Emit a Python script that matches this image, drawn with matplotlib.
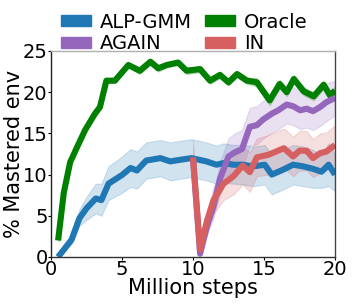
import matplotlib
matplotlib.use("Agg")
import matplotlib.pyplot as plt
from matplotlib.patches import Patch

# ALP-GMM
alp_x = [0.5, 1.45, 2.0, 2.5, 3.15, 3.55, 4.05, 5.0, 5.6, 6.05, 6.7, 7.7, 8.4, 9.1, 9.9,
         10.95, 11.65, 12.15, 12.85, 13.5, 14.25, 15.05, 15.55, 16.35, 17.05, 17.75,
         18.45, 19.05, 19.55, 20.0]
alp_y = [0.0, 2.1, 4.7, 5.9, 7.1, 6.9, 8.9, 9.95, 10.8, 10.5, 11.7, 12.0, 11.6, 11.8, 12.0,
         11.6, 11.2, 11.4, 11.2, 11.2, 11.0, 11.2, 10.0, 10.6, 11.2, 11.0, 10.7, 10.35, 11.2, 10.0]
alp_lo = [0.0, 1.6, 3.8, 4.5, 5.3, 5.0, 6.9, 7.8, 8.5, 8.3, 9.5, 9.8, 9.3, 9.5, 9.7,
          9.3, 8.9, 9.0, 8.9, 8.8, 8.6, 8.8, 7.6, 8.2, 8.8, 8.6, 8.4, 8.4, 8.6, 8.0]
alp_hi = [0.0, 2.7, 5.8, 7.3, 8.9, 8.9, 11.0, 12.2, 13.1, 12.8, 13.9, 14.2, 13.9, 14.1, 14.3,
          13.9, 13.5, 13.8, 13.6, 13.6, 13.4, 13.6, 12.4, 13.0, 13.6, 13.4, 13.0, 12.3, 13.8, 12.4]

# Oracle
ora_x = [0.5, 0.9, 1.35, 1.8, 2.4, 3.1, 3.45, 3.9, 4.5, 5.45, 6.25, 7.0, 7.55, 8.15, 8.95,
         9.55, 10.5, 11.2, 11.9, 12.5, 13.1, 13.8, 14.5, 15.4, 16.1, 16.6, 17.1, 17.8, 18.5,
         19.2, 19.65, 20.0]
ora_y = [2.0, 7.8, 11.5, 13.2, 15.4, 17.4, 18.2, 21.4, 21.4, 23.3, 22.6, 23.7, 22.9, 23.3, 23.6,
         22.6, 22.8, 21.4, 22.1, 21.2, 22.2, 21.4, 21.2, 19.0, 21.0, 20.0, 21.6, 20.1, 19.5,
         20.9, 19.6, 20.2]
ora_lo = [1.9, 7.5, 11.2, 12.9, 15.1, 17.1, 17.9, 21.1, 21.1, 23.0, 22.2, 23.3, 22.5, 23.0, 23.3,
          22.2, 22.4, 21.0, 21.7, 20.8, 21.8, 21.0, 20.7, 18.4, 20.5, 19.5, 21.1, 19.6, 19.0,
          20.4, 19.1, 19.7]
ora_hi = [2.1, 8.1, 11.8, 13.5, 15.7, 17.7, 18.5, 21.7, 21.7, 23.6, 23.0, 24.1, 23.3, 23.6, 23.9,
          23.0, 23.2, 21.8, 22.5, 21.6, 22.6, 21.8, 21.7, 19.6, 21.5, 20.5, 22.1, 20.6, 20.0,
          21.4, 20.1, 20.7]

# AGAIN
ag_x = [10.0, 10.5, 10.95, 11.45, 11.9, 12.5, 12.95, 13.45, 14.0, 14.5, 14.95, 15.55, 16.0,
        16.6, 17.05, 17.55, 18.0, 18.45, 18.95, 19.4, 20.0]
ag_y = [12.0, 0.4, 3.5, 6.2, 9.5, 12.2, 12.7, 13.1, 15.8, 16.0, 16.7, 17.4, 17.8, 18.5, 18.3,
        17.8, 18.0, 17.7, 18.2, 18.8, 19.3]
ag_lo = [12.0, 0.3, 2.5, 4.8, 7.5, 10.0, 10.4, 10.8, 13.5, 13.7, 14.4, 15.1, 15.5, 16.2, 16.0,
         15.5, 15.7, 15.4, 15.9, 16.5, 17.2]
ag_hi = [12.0, 0.5, 4.5, 7.8, 11.5, 14.4, 15.0, 15.4, 18.1, 18.3, 19.0, 19.7, 20.1, 20.8, 20.6,
         20.1, 20.3, 20.0, 20.5, 21.1, 21.4]

# IN
in_x = [10.0, 10.5, 11.0, 11.45, 12.15, 12.85, 13.5, 14.0, 14.5, 15.3, 16.4, 17.05, 17.5,
        18.0, 18.45, 18.95, 19.4, 20.0]
in_y = [12.1, 0.9, 4.5, 6.9, 8.9, 9.8, 11.1, 10.3, 12.1, 12.4, 13.2, 12.2, 12.9, 12.9, 12.0,
        12.6, 12.8, 13.6]
in_lo = [12.0, 0.8, 3.3, 5.3, 6.9, 7.6, 8.8, 7.9, 9.8, 10.0, 10.8, 9.8, 10.5, 10.5, 9.7,
         10.2, 10.5, 11.3]
in_hi = [14.2, 1.0, 5.7, 8.5, 10.9, 12.0, 13.4, 12.7, 14.4, 14.8, 15.6, 14.6, 15.3, 15.3, 14.3,
         15.0, 15.1, 16.0]

labels = ["ALP-GMM", "AGAIN", "Oracle", "IN"]
c_blue, c_purple, c_green, c_red = "#1f77b4", "#9467bd", "#008000", "#d65f5f"

fig = plt.figure(figsize=(3.54, 3.04), dpi=100)
ax = fig.add_axes([51/354, 47/304, 284/354, 206/304])

lw = 4.4
series = [
    (alp_x, alp_y, alp_lo, alp_hi, c_blue),
    (ora_x, ora_y, ora_lo, ora_hi, c_green),
    (ag_x, ag_y, ag_lo, ag_hi, c_purple),
    (in_x, in_y, in_lo, in_hi, c_red),
]
for x, y, lo, hi, c in series:
    ax.fill_between(x, lo, hi, color=c, alpha=0.2, linewidth=0.8)
for x, y, lo, hi, c in series:
    ax.plot(x, y, color=c, lw=lw, solid_capstyle="butt")

ax.set_xlim(0, 20)
ax.set_ylim(0, 25)
ax.set_xticks([0, 5, 10, 15, 20])
ax.set_yticks([0, 5, 10, 15, 20, 25])
ax.tick_params(labelsize=14, length=2, pad=0.5)
ax.set_xlabel("Million steps", fontsize=15, labelpad=-1)
ax.set_ylabel("% Mastered env", fontsize=15, labelpad=-1)

ax.spines["top"].set_color("#b0b0b0")
ax.spines["right"].set_color("#444444")
ax.spines["left"].set_color("#222222")
ax.spines["bottom"].set_color("#333333")
for s in ax.spines.values():
    s.set_linewidth(1.0)

handles = [Patch(color=c_blue), Patch(color=c_purple), Patch(color=c_green), Patch(color=c_red)]
ax.legend(handles, labels, ncol=2, loc="lower center", bbox_to_anchor=(0.468, 0.99),
          frameon=False, fontsize=14, handlelength=1.55, handleheight=0.5, handletextpad=0.46,
          columnspacing=0.67, labelspacing=0.12, borderpad=0.0, borderaxespad=0.0)

fig.savefig("out.png", dpi=100)
